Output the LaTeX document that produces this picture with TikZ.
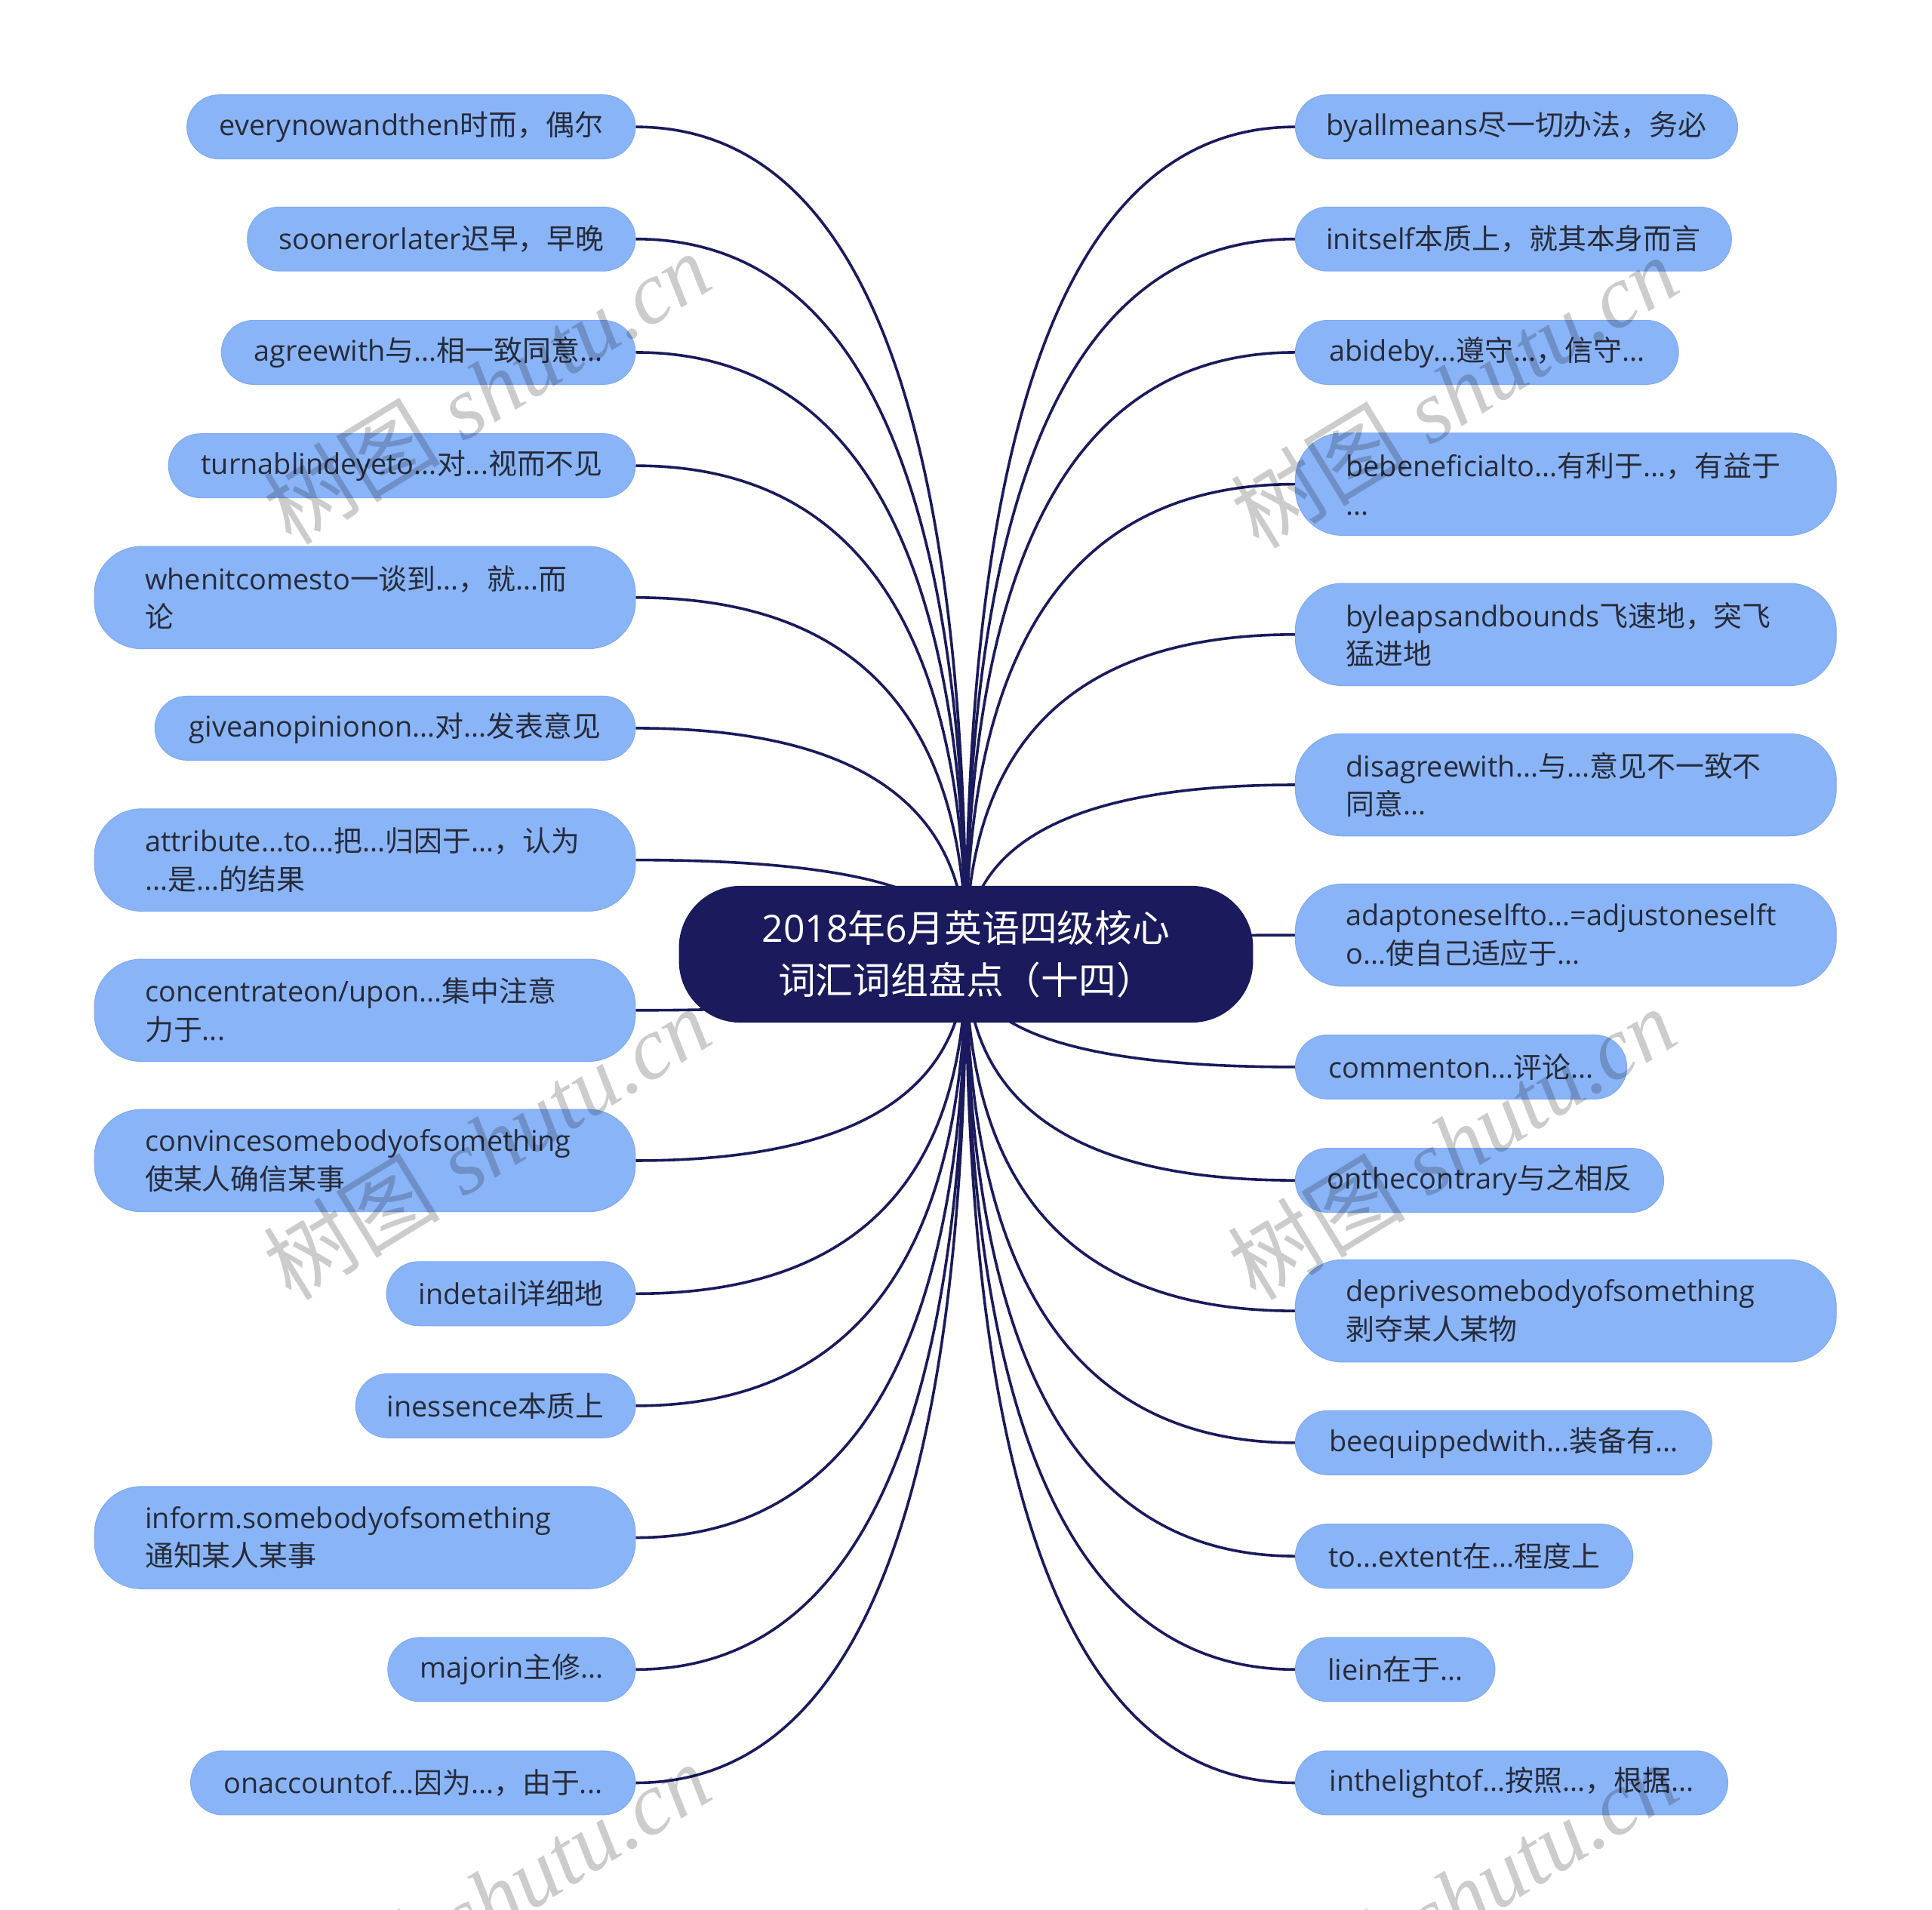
\documentclass[tikz,border=0pt]{standalone}
\usepackage{fontspec}
\setmainfont{Open Sans}
\newfontfamily\cjkfont{Noto Sans CJK SC}
\newfontfamily\wmserif{Liberation Serif}
\newcommand\zh[1]{{\cjkfont #1}}
\usetikzlibrary{calc}
\definecolor{navy}{HTML}{1B1A5C}
\definecolor{leafblue}{HTML}{8AB4F8}
\definecolor{leafedge}{HTML}{7FA9F0}
\definecolor{leaftext}{HTML}{262B3A}
\pgfdeclarelayer{back}
\pgfdeclarelayer{bg}
\pgfsetlayers{back,bg,main}
\tikzset{
  leaf/.style={fill=leafblue, draw=leafedge, line width=0.6pt, text=leaftext,
    font=\fontsize{23.2}{31}\selectfont, minimum height=52pt, inner xsep=16pt,
    inner ysep=0pt, rounded corners=26pt},
  leafL/.style={leaf, anchor=east},
  leafR/.style={leaf, anchor=west},
  twoline/.style={minimum height=83pt, minimum width=439pt, text width=357pt,
    align=left, rounded corners=38pt},
  center/.style={fill=navy, text=white, font=\fontsize{30.5}{42}\selectfont,
    minimum width=466pt, minimum height=111pt, rounded corners=50pt, align=center},
  conn/.style={draw=navy, line width=2.2pt},
  wm/.style={text=black, text opacity=0.2, font=\fontsize{72}{80}\selectfont, rotate=31.5}
}
\newcommand\linkto[2]{%
  \coordinate (k) at (ctr.center|-#1.#2);
  \draw[conn] (ctr.center) .. controls ($(ctr.center)!0.667!(k)$) and ($(#1.#2)!0.667!(k)$) .. (#1.#2);}
\begin{document}
\begin{tikzpicture}[x=1pt,y=-1pt]
\begin{pgfonlayer}{back}
\path[use as bounding box, fill=white] (0,0) rectangle (1568,1550);
\end{pgfonlayer}

\node[center] (ctr) at (784,774.5) {2018\zh{年}6\zh{月英语四级核心}\\\zh{词汇词组盘点（十四）}};

% left
\node[leafL, minimum width=364pt] (L1) at (516,103) {everynowandthen\zh{时而，偶尔}};
\node[leafL, minimum width=315pt] (L2) at (516,194) {soonerorlater\zh{迟早，早晚}};
\node[leafL, minimum width=336pt] (L3) at (516,286) {agreewith\zh{与}...\zh{相一致同意}...};
\node[leafL, minimum width=379pt] (L4) at (516,378) {turnablindeyeto...\zh{对}...\zh{视而不见}};
\node[leafL, twoline] (L5) at (516,485) {whenitcomesto\zh{一谈到}...\zh{，就}...\zh{而}\\\zh{论}};
\node[leafL, minimum width=390pt] (L6) at (516,591) {giveanopinionon...\zh{对}...\zh{发表意见}};
\node[leafL, twoline] (L7) at (516,698) {attribute...to...\zh{把}...\zh{归因于}...\zh{，认为}\\...\zh{是}...\zh{的结果}};
\node[leafL, twoline] (L8) at (516,820) {concentrateon/upon...\zh{集中注意}\\\zh{力于}...};
\node[leafL, twoline] (L9) at (516,942) {convincesomebodyofsomething\\\zh{使某人确信某事}};
\node[leafL, minimum width=202pt] (L10) at (516,1050) {indetail\zh{详细地}};
\node[leafL, minimum width=227pt] (L11) at (516,1141) {inessence\zh{本质上}};
\node[leafL, twoline] (L12) at (516,1248) {inform.somebodyofsomething\\\zh{通知某人某事}};
\node[leafL, minimum width=201pt] (L13) at (516,1355) {majorin\zh{主修}...};
\node[leafL, minimum width=361pt] (L14) at (516,1447) {onaccountof...\zh{因为}...\zh{，由于}...};

% right
\node[leafR, minimum width=359pt] (R1) at (1051,103) {byallmeans\zh{尽一切办法，务必}};
\node[leafR, minimum width=354pt] (R2) at (1051,194) {initself\zh{本质上，就其本身而言}};
\node[leafR, minimum width=311pt] (R3) at (1051,286) {abideby...\zh{遵守}...\zh{，信守}...};
\node[leafR, twoline] (R4) at (1051,393) {bebeneficialto...\zh{有利于}...\zh{，有益于}\\...};
\node[leafR, twoline] (R5) at (1051,515) {byleapsandbounds\zh{飞速地，突飞}\\\zh{猛进地}};
\node[leafR, twoline] (R6) at (1051,637) {disagreewith...\zh{与}...\zh{意见不一致不}\\\zh{同意}...};
\node[leafR, twoline] (R7) at (1051,759) {adaptoneselfto...=adjustoneselft\\o...\zh{使自己适应于}...};
\node[leafR, minimum width=269pt] (R8) at (1051,866) {commenton...\zh{评论}...};
\node[leafR, minimum width=299pt] (R9) at (1051,958) {onthecontrary\zh{与之相反}};
\node[leafR, twoline] (R10) at (1051,1064) {deprivesomebodyofsomething\\\zh{剥夺某人某物}};
\node[leafR, minimum width=338pt] (R11) at (1051,1171) {beequippedwith...\zh{装备有}...};
\node[leafR, minimum width=274pt] (R12) at (1051,1263) {to...extent\zh{在}...\zh{程度上}};
\node[leafR, minimum width=162pt] (R13) at (1051,1355) {liein\zh{在于}...};
\node[leafR, minimum width=351pt] (R14) at (1051,1447) {inthelightof...\zh{按照}...\zh{，根据}...};

\begin{pgfonlayer}{bg}
\foreach \i in {1,...,14} {\linkto{L\i}{east}\linkto{R\i}{west}}
\end{pgfonlayer}

\begin{scope}
\clip (0,0) rectangle (1568,1550);
\foreach \px/\py [count=\n] in {395/315,1180/318,395/928,1178/928,395/1541,1180/1541}
  \node[wm] (wm\n) at (\px,\py) {\zh{树图} {\wmserif\itshape shutu.cn}};
\end{scope}
\end{tikzpicture}
\end{document}
